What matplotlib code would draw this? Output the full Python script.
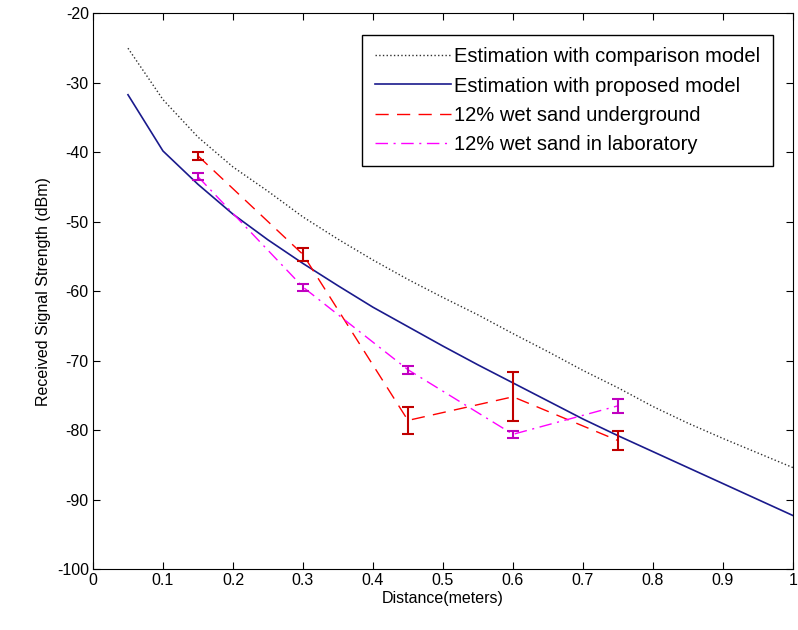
import numpy as np
import matplotlib.pyplot as plt

plt.rcParams['font.family'] = ['Liberation Sans', 'DejaVu Sans']
plt.rcParams['axes.unicode_minus'] = False

# model curves
d_model = [0.05, 0.10, 0.15, 0.20, 0.25, 0.30, 0.35, 0.40, 0.45, 0.50,
           0.55, 0.60, 0.65, 0.70, 0.75, 0.80, 0.85, 0.90, 0.95, 1.00]
rss_comparison = [-25.0, -32.4, -37.8, -42.1, -45.6, -49.3, -52.5, -55.5, -58.3, -60.9,
                  -63.4, -66.1, -68.7, -71.4, -73.9, -76.6, -79.0, -81.2, -83.3, -85.4]
rss_proposed = [-31.7, -39.8, -44.6, -48.9, -52.6, -56.0, -59.2, -62.3, -65.1, -67.9,
                -70.6, -73.2, -75.8, -78.4, -80.8, -83.1, -85.4, -87.7, -90.0, -92.3]

# measurements
d_meas = [0.15, 0.30, 0.45, 0.60, 0.75]
rss_underground = [-40.5, -54.7, -78.6, -75.2, -81.5]
err_underground = [0.6, 0.9, 1.9, 3.5, 1.4]
rss_lab = [-43.5, -59.4, -71.3, -80.6, -76.5]
err_lab = [0.5, 0.5, 0.6, 0.5, 1.0]

fig = plt.figure(figsize=(7.98, 6.3), dpi=100)
ax = fig.add_axes([0.1165, 0.0968, 0.8772, 0.8818])

ax.plot(d_model, rss_comparison, ':', color='#303030', lw=1.0,
        label='Estimation with comparison model')
ax.plot(d_model, rss_proposed, '-', color='#1a1a8c', lw=1.2,
        label='Estimation with proposed model')
ax.plot(d_meas, rss_underground, '--', color='red', lw=1.0, dashes=(9.5, 6),
        label='12% wet sand underground')
ax.plot(d_meas, rss_lab, '-.', color='magenta', lw=1.0, dashes=(9, 4, 1.5, 4),
        label='12% wet sand in laboratory')
ax.errorbar(d_meas, rss_underground, yerr=err_underground, fmt='none',
            ecolor='#c00000', capsize=4, elinewidth=1.5, capthick=1.5)
ax.errorbar(d_meas, rss_lab, yerr=err_lab, fmt='none',
            ecolor='#c000c0', capsize=4, elinewidth=1.5, capthick=1.5)

ax.set_xlim(0, 1)
ax.set_ylim(-100, -20)
ax.set_xticks(np.arange(0, 1.01, 0.1))
ax.set_xticklabels(['0', '0.1', '0.2', '0.3', '0.4', '0.5', '0.6', '0.7', '0.8', '0.9', '1'])
ax.set_yticks(np.arange(-100, -19, 10))
ax.tick_params(direction='in', top=True, right=True, labelsize=11.5, length=5, pad=3)
ax.set_xlabel('Distance(meters)', fontsize=11.5, labelpad=2)
ax.set_ylabel('Received Signal Strength (dBm)', fontsize=11.5, labelpad=4)

leg = ax.legend(loc='upper right', bbox_to_anchor=(0.9714, 0.9613), borderaxespad=0,
                fontsize=14.5, fancybox=False, edgecolor='black', framealpha=1,
                handlelength=3.8, borderpad=0.62, labelspacing=0.5, handletextpad=0.15)
leg.get_frame().set_linewidth(1.0)

fig.savefig('out.png', dpi=100)
